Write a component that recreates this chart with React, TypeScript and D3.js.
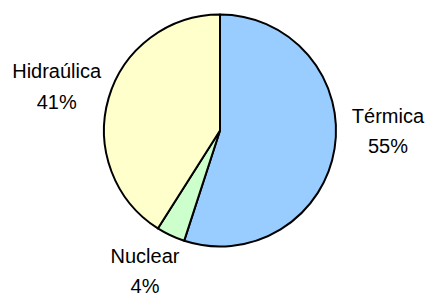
import React from "react";
import * as d3 from "d3";

const categories = ["Térmica", "Nuclear", "Hidraúlica"];
const values = [55, 4, 41];
const percentLabels = ["55%", "4%", "41%"];
const colors = ["#99CCFF", "#CCFFCC", "#FFFFCC"];

const W = 428;
const H = 293;

export default function App() {
  const cx = 220;
  const cy = 130.5;
  const r = 116;

  const pie = d3.pie<number>().sort(null).value((d) => d);
  const arcs = pie(values);
  const arc = d3.arc<d3.PieArcDatum<number>>().innerRadius(0).outerRadius(r);
  // labels sit on a ring outside the pie, nudged a bit (excel "best fit")
  const labelArc = d3.arc<d3.PieArcDatum<number>>().innerRadius(168).outerRadius(168);
  const nudge = [
    [2, -25.5],
    [-3.5, -11.5],
    [-2, 3],
  ];

  return (
    <svg
      width={W}
      height={H}
      style={{ position: "absolute", left: 0, top: 0, background: "#fff" }}
      fontFamily="'Liberation Sans', Arial, sans-serif"
      fontSize={20}
    >
      <g transform={`translate(${cx},${cy})`}>
        {arcs.map((a, i) => (
          <path key={i} d={arc(a) || ""} fill={colors[i]} stroke="#000" strokeWidth={2} strokeLinejoin="round" />
        ))}
        {arcs.map((a, i) => {
          const [px, py] = labelArc.centroid(a);
          const x = px + nudge[i][0];
          const y = py + nudge[i][1];
          return (
            <text key={"t" + i} textAnchor="middle" fill="#000">
              <tspan x={x} y={y - 8.5}>{categories[i]}</tspan>
              <tspan x={x} y={y + 22}>{percentLabels[i]}</tspan>
            </text>
          );
        })}
      </g>
    </svg>
  );
}
